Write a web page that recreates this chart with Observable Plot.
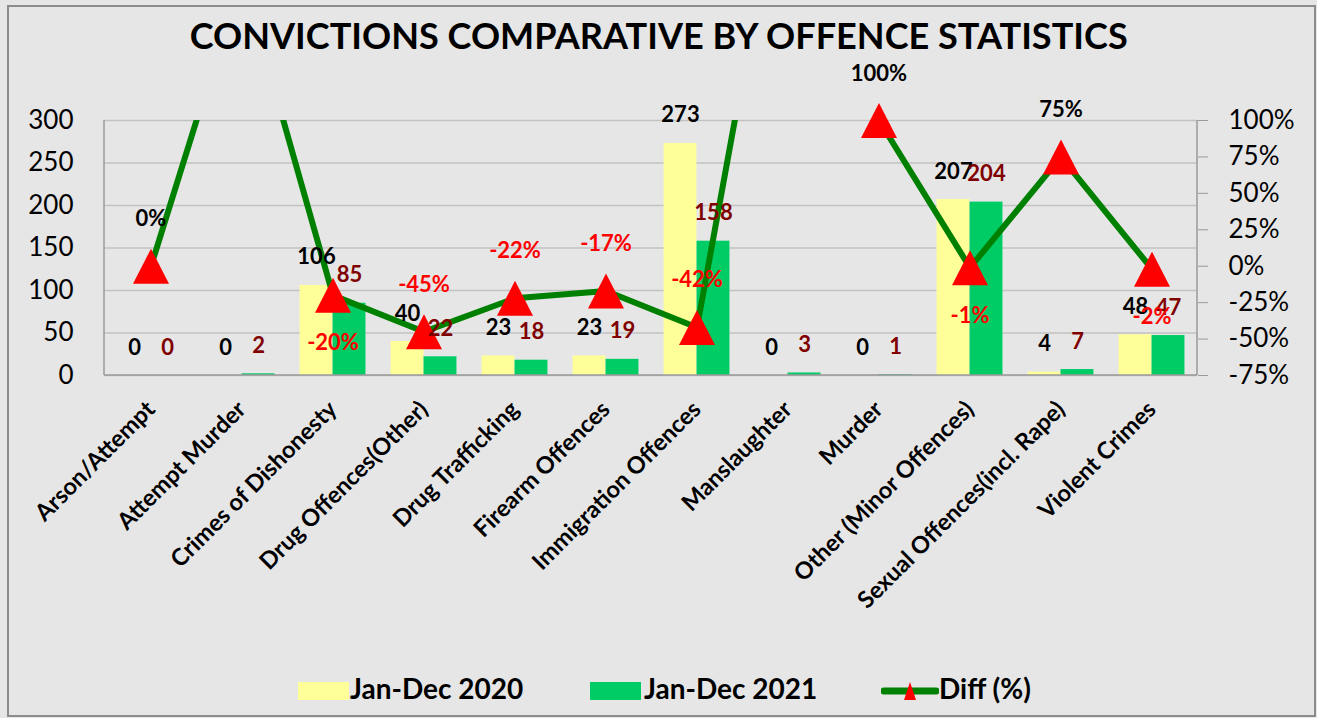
<!DOCTYPE html>
<html><head><meta charset="utf-8">
<script src="https://cdn.jsdelivr.net/npm/d3@7"></script>
<script src="https://cdn.jsdelivr.net/npm/@observablehq/plot@0.6"></script>
<style>
html,body{margin:0;padding:0;background:#e6e6e6;}
#wrap{position:relative;width:1317px;height:718px;overflow:hidden;background:#e6e6e6;font-family:Lato,"Open Sans",sans-serif;}
#border{position:absolute;left:7px;top:5px;width:1305px;height:708px;border:2px solid #8c8c8c;}
#title{position:absolute;left:0;top:13px;width:1317px;text-align:center;font-size:37px;line-height:1.2;font-weight:700;color:#000;white-space:nowrap;}
#title span{display:inline-block;transform-origin:center;}
#chart{position:absolute;left:0;top:55px;}
.lg{position:absolute;top:672px;font-size:28px;line-height:1.2;font-weight:700;color:#000;white-space:nowrap;}
.sw{position:absolute;top:682px;width:51px;height:18px;}
</style>
</head><body>
<div id="wrap">
  <div id="border"></div>
  <div id="chart"></div>
  <div id="title"><span id="titleText">CONVICTIONS COMPARATIVE BY OFFENCE STATISTICS</span></div>
  <div class="sw" style="left:298px;background:#ffff99"></div>
  <div class="lg" style="left:350px">Jan-Dec 2020</div>
  <div class="sw" style="left:590px;background:#00cc66"></div>
  <div class="lg" style="left:644px">Jan-Dec 2021</div>
  <svg style="position:absolute;left:881px;top:680px" width="58" height="22">
    <line x1="3" x2="55" y1="11" y2="11" stroke="#008000" stroke-width="7" stroke-linecap="round"/>
    <path d="M29,2 L35,20 L23,20 Z" fill="#ff0000"/>
  </svg>
  <div class="lg" style="left:939px">Diff (%)</div>
</div>
<script>
// ---- data ----
const categories = ["Arson/Attempt","Attempt Murder","Crimes of Dishonesty","Drug Offences(Other)","Drug Trafficking","Firearm Offences","Immigration Offences","Manslaughter","Murder","Other (Minor Offences)","Sexual Offences(incl. Rape)","Violent Crimes"];
const convictions2020 = [0, 0, 106, 40, 23, 23, 273, 0, 0, 207, 4, 48];
const convictions2021 = [0, 2, 85, 22, 18, 19, 158, 3, 1, 204, 7, 47];
const diffPct = [0, 2.00, -0.20, -0.45, -0.22, -0.17, -0.42, 3.00, 1.00, -0.01, 0.75, -0.02];
const leftTicks = [0, 50, 100, 150, 200, 250, 300];
const rightTicks = [-0.75, -0.5, -0.25, 0, 0.25, 0.5, 0.75, 1];

// ---- build ----
const rows = categories.map((c, i) => ({cat: c, v20: convictions2020[i], v21: convictions2021[i], diff: diffPct[i]}));
const pMin = -0.75, pMax = 1, yMax = 300;
const toLeft = p => (p - pMin) / (pMax - pMin) * yMax;
const fromLeft = v => v / yMax * (pMax - pMin) + pMin;
const pctFmt = p => Math.round(p * 100) + "%";
const visible = rows.filter(d => d.diff <= pMax);
const belowSet = new Set(["Crimes of Dishonesty", "Other (Minor Offences)", "Violent Crimes"]);

const bw = 1093 / 12, barW = 33;
const tri = {draw(ctx) { ctx.moveTo(0, -17.5); ctx.lineTo(18, 17.5); ctx.lineTo(-18, 17.5); ctx.closePath(); }};

const frameLines = (index, scales, values, dims) => {
  const {width, height, marginLeft, marginRight, marginTop, marginBottom} = dims;
  const x0 = marginLeft, x1 = width - marginRight, y0 = marginTop, y1 = height - marginBottom;
  const g = d3.create("svg:g").attr("stroke", "#9a9a9a").attr("stroke-width", 1.5);
  g.append("line").attr("x1", x0).attr("x2", x0).attr("y1", y0).attr("y2", y1);
  g.append("line").attr("x1", x1).attr("x2", x1).attr("y1", y0).attr("y2", y1);
  g.append("line").attr("x1", x0).attr("x2", x1).attr("y1", y1).attr("y2", y1);
  return g.node();
};

const labelStyle = {fontSize: 22, fontWeight: "bold", lineAnchor: "middle"};

const chart = Plot.plot({
  width: 1317, height: 585,
  marginLeft: 104, marginRight: 120, marginTop: 65, marginBottom: 265,
  style: {background: "transparent", color: "black", fontFamily: "Lato, 'Open Sans', sans-serif"},
  x: {type: "band", domain: categories, padding: 0},
  y: {domain: [0, yMax]},
  marks: [
    Plot.gridY(leftTicks, {stroke: "#c2c2c2", strokeOpacity: 1, strokeWidth: 1.5}),
    Plot.barY(rows, {x: "cat", y: "v20", fill: "#ffff99", insetLeft: bw / 2 - barW, insetRight: bw / 2}),
    Plot.barY(rows, {x: "cat", y: "v21", fill: "#00cc66", insetLeft: bw / 2, insetRight: bw / 2 - barW}),
    frameLines,
    Plot.axisY(leftTicks, {anchor: "left", tickSize: 0, tickPadding: 31, fontSize: 26, label: null}),
    Plot.axisY(rightTicks.map(toLeft), {anchor: "right", tickSize: 10, tickPadding: 21, fontSize: 26, stroke: "#9a9a9a", label: null, tickFormat: d => pctFmt(fromLeft(d))}),
    Plot.axisX({tickSize: 0, tickPadding: 30, tickRotate: -45, fontSize: 23.5, fontWeight: "bold", label: null}),
    Plot.line(rows, {x: "cat", y: d => toLeft(d.diff), stroke: "#008000", strokeWidth: 6, strokeLinejoin: "round", clip: true}),
    Plot.dot(visible, {x: "cat", y: d => toLeft(d.diff), symbol: tri, r: 14, fill: "#ff0000", stroke: "none"}),
    Plot.text(rows, {x: "cat", y: "v20", text: d => String(d.v20), dx: -barW / 2, dy: -28, fill: "black", ...labelStyle}),
    Plot.text(rows, {x: "cat", y: "v21", text: d => String(d.v21), dx: barW / 2, dy: -28, fill: "#800000", ...labelStyle}),
    Plot.text(visible.filter(d => !belowSet.has(d.cat) && d.diff < 0), {x: "cat", y: d => toLeft(d.diff), text: d => pctFmt(d.diff), dy: -47, fill: "#ff0000", ...labelStyle}),
    Plot.text(visible.filter(d => !belowSet.has(d.cat) && d.diff >= 0), {x: "cat", y: d => toLeft(d.diff), text: d => pctFmt(d.diff), dy: -47, fill: "black", ...labelStyle}),
    Plot.text(visible.filter(d => belowSet.has(d.cat)), {x: "cat", y: d => toLeft(d.diff), text: d => pctFmt(d.diff), dy: 48, fill: "#ff0000", ...labelStyle})
  ]
});
document.getElementById("chart").appendChild(chart);

// fit title width to the reference span
const t = document.getElementById("titleText");
const w = t.getBoundingClientRect().width;
t.style.transform = `scaleX(${938 / w})`;
</script>
</body></html>
